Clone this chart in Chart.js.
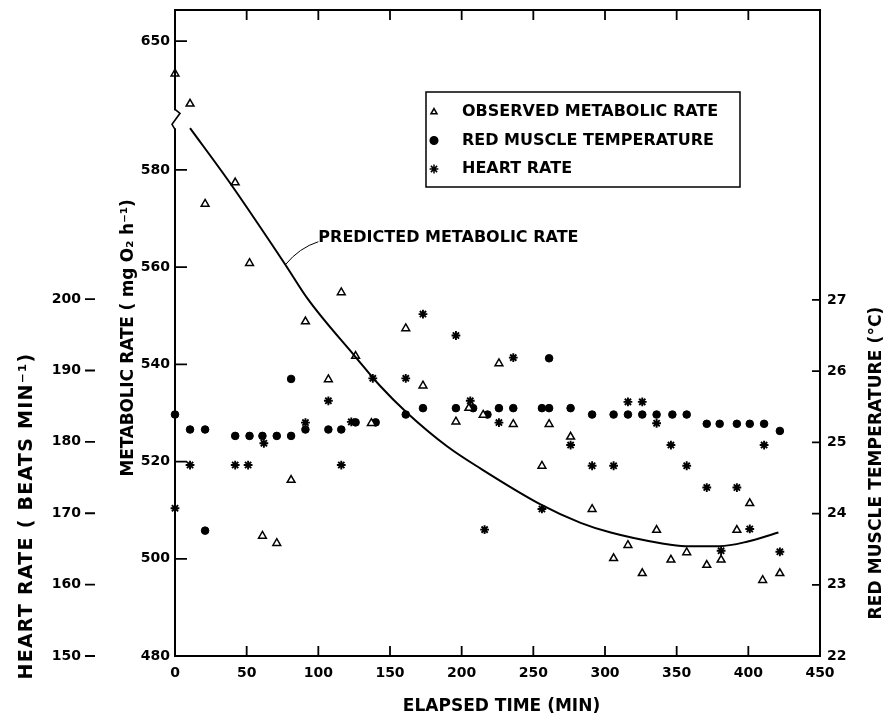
<!DOCTYPE html>
<html>
<head>
<meta charset="utf-8">
<title>Metabolic rate, red muscle temperature and heart rate</title>
<script src="https://cdn.jsdelivr.net/npm/chart.js@4.4.0/dist/chart.umd.min.js"></script>
<style>
  html, body { margin: 0; padding: 0; background: #fff; }
  canvas { display: block; }
</style>
</head>
<body>
<canvas id="chart" width="885" height="718"></canvas>
<script>
// --- values ---
const obsTime      = [0, 10.5, 21, 42, 52, 61, 71, 81, 91, 107, 116, 126, 137, 161, 173, 196, 205, 215, 226, 236,
                      256, 261, 276, 291, 306, 316, 326, 336, 346, 357, 371, 381, 392, 401, 410, 422];
const obsMetabolic = [643.3, 637.1, 573.0, 577.4, 560.8, 504.7, 503.2, 516.2, 548.8, 536.9, 554.8, 541.7, 527.9, 547.4, 535.6, 528.2, 531.0, 529.6, 540.2, 527.7,
                      519.1, 527.7, 525.1, 510.2, 500.1, 502.8, 497.0, 505.9, 499.8, 501.3, 498.7, 499.8, 505.9, 511.4, 495.6, 497.0];

const tempTime   = [0, 10.5, 21, 21, 42, 52, 61, 71, 81, 81, 91, 107, 116, 126, 140, 161, 173, 196, 208, 218, 226, 236,
                    256, 261, 261, 276, 291, 306, 316, 326, 336, 347, 357, 371, 380, 392, 401, 411, 422];
const muscleTemp = [25.39, 25.18, 25.18, 23.76, 25.09, 25.09, 25.09, 25.09, 25.09, 25.89, 25.18, 25.18, 25.18, 25.28, 25.28, 25.39, 25.48, 25.48, 25.48, 25.39, 25.48, 25.48,
                    25.48, 25.48, 26.18, 25.48, 25.39, 25.39, 25.39, 25.39, 25.39, 25.39, 25.39, 25.26, 25.26, 25.26, 25.26, 25.26, 25.16];

const hrTime    = [0, 10.5, 42, 51, 62, 91, 107, 116, 123, 138, 161, 173, 196, 206, 216, 226, 236,
                   256, 276, 291, 306, 316, 326, 336, 346, 357, 371, 381, 392, 401, 411, 422];
const heartRate = [170.7, 176.75, 176.75, 176.75, 179.8, 182.7, 185.75, 176.75, 182.8, 188.9, 188.9, 197.9, 194.9, 185.75, 167.7, 182.7, 191.8,
                   170.6, 179.55, 176.65, 176.65, 185.6, 185.6, 182.6, 179.55, 176.65, 173.6, 164.75, 173.6, 167.8, 179.55, 164.6];

const predTime      = [10.5, 38.4, 77, 93, 126, 143, 162, 190, 213, 255, 283, 304, 339, 356, 380, 399, 421];
const predMetabolic = [588.6, 577.3, 560.5, 553.3, 541.5, 535.6, 530.0, 523.1, 518.6, 511.2, 507.4, 505.4, 503.2, 502.6, 502.6, 503.5, 505.4];

const timeTicks = [0, 50, 100, 150, 200, 250, 300, 350, 400, 450];
const metTicks  = [480, 500, 520, 540, 560, 580, 650];
const hrTicks   = [150, 160, 170, 180, 190, 200];
const tempTicks = [22, 23, 24, 25, 26, 27];

// metabolic axis is broken between 590 and 633.5
const BREAK_AT = 590;
const BREAK_GAP = 43.5;
const toAxis = v => v > BREAK_AT ? v - BREAK_GAP : v;
const fromAxis = v => v > BREAK_AT ? v + BREAK_GAP : v;

class BrokenLinearScale extends Chart.LinearScale {
  buildTicks() { return metTicks.map(v => ({ value: v })); }
  configure() {
    super.configure();
    this._startValue = toAxis(this.min);
    this._endValue = toAxis(this.max);
    this._valueRange = this._endValue - this._startValue;
  }
  getPixelForValue(v) {
    if (v === null || v === undefined || isNaN(v)) return NaN;
    return this.getPixelForDecimal((toAxis(v) - this._startValue) / this._valueRange);
  }
  getValueForPixel(p) {
    return fromAxis(this._startValue + this.getDecimalForPixel(p) * this._valueRange);
  }
}
BrokenLinearScale.id = 'brokenLinear';
BrokenLinearScale.defaults = Chart.LinearScale.defaults;
Chart.register(BrokenLinearScale);

const FONT = '"DejaVu Sans", sans-serif';
Chart.defaults.font.family = FONT;
Chart.defaults.font.size = 14;
Chart.defaults.font.weight = 'bold';
Chart.defaults.color = '#000';

const pts = (xs, ys) => xs.map((t, i) => ({ x: t, y: ys[i] }));

const triStyle  = { pointStyle: 'triangle', radius: 4.5, borderWidth: 1.5, fill: '#fff' };
const dotStyle  = { pointStyle: 'circle', radius: 3.8, borderWidth: 1, fill: '#000' };
const starStyle = { pointStyle: 'star', radius: 4.4, borderWidth: 1.9, fill: '#000' };

const mkSet = (label, data, axis, st) => ({
  label, data, yAxisID: axis,
  pointStyle: st.pointStyle, pointRadius: st.radius, pointBorderWidth: st.borderWidth,
  pointBackgroundColor: st.fill, pointBorderColor: '#000', clip: false
});

// label offset comes from tickLength (marks themselves are drawn by the plugin)
const hiddenGrid = len => ({ display: false, drawTicks: true, tickLength: len });

function drawRotated(ctx, text, cx, cy, size, target) {
  ctx.save();
  ctx.font = `bold ${size}px ${FONT}`;
  const w = ctx.measureText(text).width;
  const sp = Math.max(-1, (target - w) / text.length);
  ctx.letterSpacing = sp.toFixed(2) + 'px';
  ctx.translate(cx, cy);
  ctx.rotate(-Math.PI / 2);
  ctx.textAlign = 'center';
  ctx.textBaseline = 'middle';
  ctx.fillText(text, 0, 0);
  ctx.restore();
}

const figureExtras = {
  id: 'figureExtras',
  afterDraw(chart) {
    const { ctx, chartArea: a, scales } = chart;
    const xs = scales.x, met = scales.ymet, hr = scales.yhr, temp = scales.ytemp;
    ctx.save();
    ctx.strokeStyle = '#000';
    ctx.fillStyle = '#000';

    // frame
    ctx.lineWidth = 2;
    ctx.strokeRect(a.left, a.top, a.right - a.left, a.bottom - a.top);

    // tick marks (inward on the frame, outside for heart rate)
    ctx.lineWidth = 1.8;
    ctx.beginPath();
    timeTicks.forEach(v => {
      if (v <= 0 || v >= 450) return;
      const px = xs.getPixelForValue(v);
      ctx.moveTo(px, a.bottom); ctx.lineTo(px, a.bottom - 10);
      ctx.moveTo(px, a.top); ctx.lineTo(px, a.top + 10);
    });
    metTicks.forEach(v => {
      const py = met.getPixelForValue(v);
      ctx.moveTo(a.left, py); ctx.lineTo(a.left + 12, py);
    });
    tempTicks.forEach(v => {
      if (v === 22) return;
      const py = temp.getPixelForValue(v);
      ctx.moveTo(a.right - 8, py); ctx.lineTo(a.right, py);
    });
    hrTicks.forEach(v => {
      const py = hr.getPixelForValue(v);
      ctx.moveTo(hr.right - 15, py); ctx.lineTo(hr.right - 5, py);
    });
    ctx.stroke();

    // axis break
    const yb = met.getPixelForValue(BREAK_AT);
    ctx.fillStyle = '#fff';
    ctx.fillRect(a.left - 3, yb - 11, 6, 18);
    ctx.fillStyle = '#000';
    ctx.lineWidth = 1.6;
    ctx.beginPath();
    ctx.moveTo(a.left, yb - 12);
    ctx.lineTo(a.left + 5, yb - 8);
    ctx.lineTo(a.left - 3, yb + 3);
    ctx.lineTo(a.left, yb + 8);
    ctx.stroke();

    // axis titles
    drawRotated(ctx, 'HEART RATE ( BEATS MIN\u207B\u00B9)', 27, 516, 19, 327);
    drawRotated(ctx, 'METABOLIC RATE ( mg O\u2082 h\u207B\u00B9)', 129, 338, 17, 277);
    drawRotated(ctx, 'RED MUSCLE TEMPERATURE (\u00B0C)', 877, 463, 17, 313);
    ctx.font = `bold 17px ${FONT}`;
    ctx.textAlign = 'center';
    ctx.textBaseline = 'middle';
    ctx.fillText('ELAPSED TIME (MIN)', (a.left + a.right) / 2 + 4, 707);

    // curve label with leader
    const ax = xs.getPixelForValue(77), ay = met.getPixelForValue(560.5);
    ctx.lineWidth = 1;
    ctx.beginPath();
    ctx.moveTo(ax, ay);
    ctx.quadraticCurveTo(ax + 14, ay - 17, ax + 33, ay - 23);
    ctx.stroke();
    ctx.font = `bold 16px ${FONT}`;
    ctx.textAlign = 'left';
    ctx.fillText('PREDICTED METABOLIC RATE', ax + 33, ay - 27);

    // legend
    ctx.lineWidth = 1.5;
    ctx.strokeRect(426, 92, 314, 95);
    const rows = [['OBSERVED METABOLIC RATE', triStyle], ['RED MUSCLE TEMPERATURE', dotStyle], ['HEART RATE', starStyle]];
    rows.forEach(([txt, st], i) => {
      const y = 112 + i * 28.5;
      ctx.fillStyle = st.fill;
      ctx.strokeStyle = '#000';
      Chart.helpers.drawPoint(ctx, { pointStyle: st.pointStyle, radius: i === 0 ? 3.5 : st.radius, borderWidth: st.borderWidth, rotation: 0 }, 434, y);
      ctx.fillStyle = '#000';
      ctx.fillText(txt, 462, y);
    });
    ctx.restore();
  }
};

new Chart(document.getElementById('chart'), {
  type: 'scatter',
  data: {
    datasets: [
      {
        label: 'PREDICTED METABOLIC RATE', data: pts(predTime, predMetabolic), yAxisID: 'ymet',
        showLine: true, cubicInterpolationMode: 'monotone', borderColor: '#000', borderWidth: 2,
        pointRadius: 0, fill: false
      },
      mkSet('OBSERVED METABOLIC RATE', pts(obsTime, obsMetabolic), 'ymet', triStyle),
      mkSet('RED MUSCLE TEMPERATURE', pts(tempTime, muscleTemp), 'ytemp', dotStyle),
      mkSet('HEART RATE', pts(hrTime, heartRate), 'yhr', starStyle)
    ]
  },
  options: {
    responsive: false,
    animation: false,
    events: [],
    layout: { padding: { top: 10 } },
    plugins: { legend: { display: false }, tooltip: { enabled: false } },
    scales: {
      x: {
        type: 'linear', position: 'bottom', min: 0, max: 450,
        grid: hiddenGrid(9), border: { display: false },
        ticks: { stepSize: 50, padding: 0 },
        afterBuildTicks: s => { s.ticks = timeTicks.map(v => ({ value: v })); },
        afterFit: s => { s.height = 62; }
      },
      yhr: {
        type: 'linear', position: 'left', weight: 2, min: 150, max: 240.5,
        grid: hiddenGrid(19), border: { display: false },
        ticks: { padding: 0 },
        afterBuildTicks: s => { s.ticks = hrTicks.map(v => ({ value: v })); },
        afterFit: s => { s.width = 100; }
      },
      ymet: {
        type: 'brokenLinear', position: 'left', weight: 1, min: 480, max: 656.4,
        grid: hiddenGrid(5), border: { display: false },
        ticks: { padding: 0, autoSkip: false },
        afterFit: s => { s.width = 75; }
      },
      ytemp: {
        type: 'linear', position: 'right', min: 22, max: 31.07,
        grid: hiddenGrid(7), border: { display: false },
        ticks: { padding: 0 },
        afterBuildTicks: s => { s.ticks = tempTicks.map(v => ({ value: v })); },
        afterFit: s => { s.width = 65; }
      }
    }
  },
  plugins: [figureExtras]
});
</script>
</body>
</html>
